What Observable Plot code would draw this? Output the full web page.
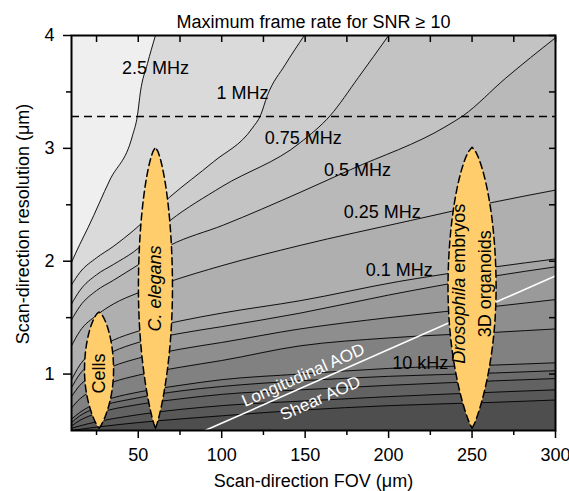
<!DOCTYPE html>
<html><head><meta charset="utf-8">
<script src="https://cdn.jsdelivr.net/npm/d3@7"></script>
<script src="https://cdn.jsdelivr.net/npm/@observablehq/plot@0.6"></script>
<style>body{margin:0;background:#fff;}</style>
</head><body><div id="chart"></div>
<script>
// ---- data ----
const xMajor = [50, 100, 150, 200, 250, 300];
const xMinor = [25, 75, 125, 175, 225, 275];
const yMajor = [1, 2, 3, 4];
const yMinor = [1.5, 2.5, 3.5];

const levelNames = ["2.5 MHz","1 MHz","0.75 MHz","0.5 MHz","0.25 MHz","0.1 MHz","75 kHz","50 kHz","25 kHz","10 kHz","7.5 kHz","5 kHz","2.5 kHz","1 kHz"];
// contour lines: [FOV µm, resolution µm]
const c2500k = [[10,1.99],[15,2.15],[20,2.3],[33,2.72],[46.5,3.11],[49.5,3.29],[51.3,3.5],[55.5,3.75],[60.3,4]];
const c1000k = [[10,1.79],[15,1.9],[25,2.03],[35,2.13],[47,2.27],[69,2.57],[95,2.88],[118.4,3.18],[123.2,3.29],[127.4,3.47],[138,3.74],[149.5,4]];
const c750k = [[10,1.62],[15,1.74],[25,1.88],[35,1.97],[47,2.08],[69,2.36],[100,2.66],[147,3.05],[165,3.29],[182,3.63],[200,4]];
const c500k = [[10,1.48],[15,1.6],[25,1.74],[35,1.83],[47,1.94],[69,2.14],[101,2.32],[147,2.61],[177,2.81],[235,3.2],[244.7,3.29],[270,3.62],[300,3.98]];
const c250k = [[10,1.25],[15,1.38],[25,1.52],[35,1.62],[50,1.72],[69,1.82],[100,1.96],[147,2.14],[213,2.36],[262,2.52],[300,2.63]];
const c100k = [[10,0.95],[15,1.08],[25,1.22],[35,1.3],[50,1.38],[75,1.47],[100,1.54],[147,1.65],[206,1.82],[264,1.95],[300,2.02]];
const c75k = [[10,0.88],[15,1.0],[25,1.12],[35,1.2],[50,1.28],[75,1.36],[100,1.42],[147,1.54],[200,1.7],[264,1.87],[300,1.95]];
const c50k = [[10,0.8],[15,0.9],[25,1.0],[35,1.07],[50,1.14],[75,1.22],[100,1.28],[147,1.4],[200,1.5],[264,1.6],[300,1.66]];
const c25k = [[10,0.7],[15,0.78],[25,0.87],[35,0.93],[50,0.99],[75,1.06],[100,1.12],[147,1.25],[200,1.32],[264,1.37],[300,1.4]];
const c10k = [[10,0.6],[15,0.66],[25,0.74],[35,0.79],[50,0.84],[75,0.9],[100,0.95],[147,1.0],[200,1.05],[264,1.08],[300,1.1]];
const c7k5 = [[10,0.57],[15,0.63],[25,0.7],[50,0.79],[75,0.85],[100,0.89],[147,0.94],[200,0.98],[264,1.01],[300,1.03]];
const c5k = [[10,0.54],[15,0.59],[25,0.65],[50,0.73],[75,0.78],[100,0.82],[147,0.86],[200,0.9],[264,0.94],[300,0.96]];
const c2k5 = [[10,0.52],[20,0.56],[50,0.64],[100,0.72],[147,0.76],[200,0.8],[264,0.84],[300,0.86]];
const c1k = [[10,0.5],[25,0.53],[50,0.57],[100,0.63],[147,0.68],[200,0.72],[264,0.75],[300,0.77]];
const contours = [c2500k,c1000k,c750k,c500k,c250k,c100k,c75k,c50k,c25k,c10k,c7k5,c5k,c2k5,c1k];

const contourLabels = [
  {text:"2.5 MHz", x:60.3, y:3.708},
  {text:"1 MHz", x:112.4, y:3.486},
  {text:"0.75 MHz", x:148.9, y:3.088},
  {text:"0.5 MHz", x:181.3, y:2.804},
  {text:"0.25 MHz", x:196.2, y:2.432},
  {text:"0.1 MHz", x:206.4, y:1.918},
  {text:"10 kHz", x:219, y:1.095}
];
const dashedResolution = [3.283];
const aodBoundary = [[90,0.5],[300,1.87]];
const aodLabels = [
  {text:"Longitudinal AOD", x:148.9, y:0.99},
  {text:"Shear AOD", x:159.1, y:0.785}
];
const samples = [
  {name:"Cells", cx:26.5, bottom:0.52, top:1.55, rx:8.7, ty:1.006},
  {name:"C. elegans", cx:60.3, bottom:0.52, top:3.01, rx:10.2, ty:1.759},
  {name:"Drosophila embryos|3D organoids", cx:250, bottom:0.52, top:3.01, rx:14.4, ty:1.8}
];
const axisTitles = {x:"Scan-direction FOV (μm)", y:"Scan-direction resolution (μm)", yCenter:2.33};

// ---- styles ----
const bandFills = ["#efefef","#dadada","#cdcdcd","#c3c3c3","#b9b9b9","#afafaf","#a5a5a5","#9a9a9a","#8e8e8e","#818181","#767676","#6c6c6c","#626262","#585858","#4e4e4e"];
const font = "'Liberation Sans', Arial, Helvetica, sans-serif";

function lens(s){
  const pts = [];
  const cy = (s.top + s.bottom)/2, ry = (s.top - s.bottom)/2;
  const n = 60;
  for (let i = 0; i <= n; i++) { const u = -1 + 2*i/n; const a = u < 0 ? 0.85 : 0.68; pts.push([s.cx + s.rx*Math.pow(Math.max(0,1-u*u), a), cy + ry*u]); }
  for (let i = n-1; i > 0; i--) { const u = -1 + 2*i/n; const a = u < 0 ? 0.85 : 0.68; pts.push([s.cx - s.rx*Math.pow(Math.max(0,1-u*u), a), cy + ry*u]); }
  return pts;
}

const X = d => d[0], Y = d => d[1];
const marks = [Plot.frame({fill: bandFills[bandFills.length-1]})];
for (let i = contours.length - 1; i >= 0; i--) {
  marks.push(Plot.areaY(contours[i], {x: X, y1: Y, y2: () => 4, fill: bandFills[i], curve: "monotone-x", clip: true}));
}
for (const c of contours) {
  marks.push(Plot.line(c, {x: X, y: Y, stroke: "black", strokeWidth: 0.9, curve: "monotone-x", clip: true}));
}
marks.push(Plot.ruleY(dashedResolution, {stroke: "black", strokeWidth: 1.5, strokeDasharray: "8,5"}));
marks.push(Plot.line(aodBoundary, {x: X, y: Y, stroke: "white", strokeWidth: 1.6, clip: true}));
for (const s of samples) {
  marks.push(Plot.line(lens(s), {x: X, y: Y, fill: "#ffcd6b", stroke: "black", strokeWidth: 1.5, strokeDasharray: "7,4", curve: "linear-closed"}));
}
marks.push(Plot.text(contourLabels, {x: "x", y: "y", text: "text", fontSize: 18, fill: "black"}));
marks.push(Plot.text(aodLabels, {x: "x", y: "y", text: "text", rotate: -24, fill: "white", fontSize: 17}));
marks.push(Plot.text([samples[0]], {x: "cx", y: "ty", text: "name", rotate: -90, fontSize: 18}));
marks.push(Plot.text([samples[1]], {x: "cx", y: "ty", text: "name", rotate: -90, fontSize: 18, fontStyle: "italic"}));
marks.push(Plot.text([samples[2]], {x: "cx", y: "ty", text: d => "Drosophila embryos", rotate: -90, fontSize: 18, dx: -13}));
marks.push(Plot.text([samples[2]], {x: "cx", y: "ty", text: d => "3D organoids", rotate: -90, fontSize: 18, dx: 13}));
marks.push(Plot.frame({stroke: "black", strokeWidth: 2}));
marks.push(Plot.axisX({ticks: xMajor, tickSize: 8, tickPadding: 10, tickFormat: d => d, label: null, fontSize: 18, strokeWidth: 1.5}));
marks.push(Plot.axisX({ticks: xMinor, tickSize: 5, tickFormat: () => "", label: null, strokeWidth: 1.5}));
marks.push(Plot.axisX({anchor: "top", ticks: xMajor.concat(xMinor), tickSize: -6, tickFormat: () => "", label: null, strokeWidth: 1.5}));
marks.push(Plot.axisY({ticks: yMajor, tickSize: 8, tickPadding: 9, tickFormat: d => d, label: null, fontSize: 18, strokeWidth: 1.5}));
marks.push(Plot.axisY({ticks: yMinor, tickSize: 5, tickFormat: () => "", label: null, strokeWidth: 1.5}));
marks.push(Plot.axisY({anchor: "right", ticks: yMajor.concat(yMinor), tickSize: -7, tickFormat: () => "", label: null, strokeWidth: 1.5}));
marks.push(Plot.text(["Maximum frame rate for SNR ≥ 10"], {frameAnchor: "top", dy: -20, fontSize: 18}));
marks.push(Plot.text([axisTitles.x], {frameAnchor: "bottom", dy: 56, fontSize: 18}));
marks.push(Plot.text([axisTitles.y], {frameAnchor: "left", y: () => axisTitles.yCenter, dx: -48, rotate: -90, textAnchor: "middle", fontSize: 18}));

const chart = Plot.plot({
  width: 569, height: 491,
  marginLeft: 71, marginRight: 14, marginTop: 35, marginBottom: 61,
  x: {domain: [10, 300]},
  y: {domain: [0.5, 4]},
  style: {fontFamily: font, fontSize: "18px", color: "black", background: "white", overflow: "visible"},
  marks
});
document.getElementById("chart").appendChild(chart);

// italic genus name inside the text element
d3.select(chart).selectAll("text").each(function(){
  const t = this.textContent;
  if (t === "Drosophila embryos") {
    this.textContent = "";
    d3.select(this).append("tspan").attr("font-style","italic").text("Drosophila");
    d3.select(this).append("tspan").text(" embryos");
  }
});
</script>
</body></html>
